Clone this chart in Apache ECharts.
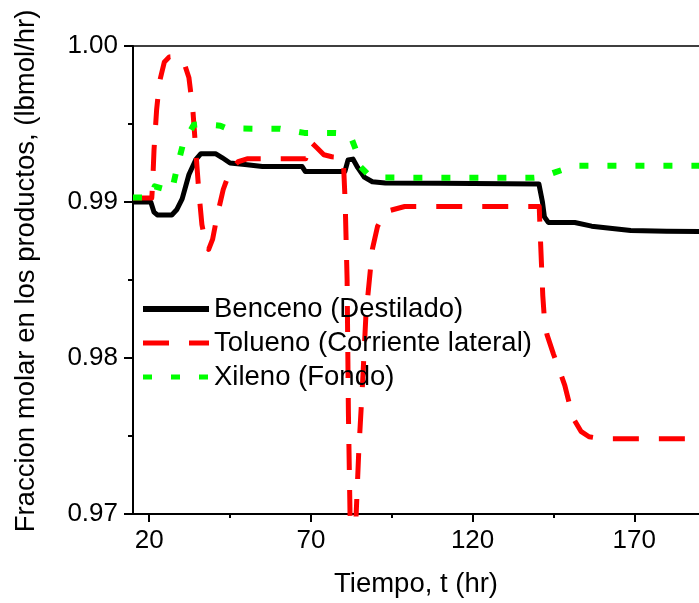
<!DOCTYPE html>
<html>
<head>
<meta charset="utf-8">
<script src="https://cdn.jsdelivr.net/npm/echarts@6/dist/echarts.min.js"></script>
<style>
html,body{margin:0;padding:0;background:#fff;}
#chart{width:699px;height:603px;}
</style>
</head>
<body>
<div id="chart"></div>
<script>
// ---- Data ----
var xTickValues = [20, 70, 120, 170];
var xMinorTickValues = [45, 95, 145];
var yTickLabels = ['0.97', '0.98', '0.99', '1.00'];

var seriesNames = ['Benceno (Destilado)', 'Tolueno (Corriente lateral)', 'Xileno (Fondo)'];

var bencenoT = [15, 20.5, 21.5, 22.5, 27, 28.5, 30.2, 32.3, 34.4, 36, 40.5, 42.5, 45, 49.6, 55, 67.3, 68.3, 75, 80.5, 81.5, 83, 84.5, 86.5, 89, 93, 110, 140.5, 141.6, 142.2, 143.4, 151.6, 156.8, 168.9, 180, 190];
var bencenoY = [0.9900, 0.9900, 0.98935, 0.98917, 0.98917, 0.9895, 0.9902, 0.99176, 0.99271, 0.9931, 0.9931, 0.99285, 0.9925, 0.9924, 0.99228, 0.99227, 0.99195, 0.99195, 0.99195, 0.9927, 0.99275, 0.9922, 0.9916, 0.9913, 0.99122, 0.9912, 0.99115, 0.9900, 0.98905, 0.98869, 0.98869, 0.98845, 0.98818, 0.98812, 0.98811];

var toluenoT = [15, 20.8, 21.1, 21.5, 22.3, 23.2, 24.7, 26.2, 27.5, 28.7, 30.8, 32.3, 33.5, 34.4, 35.3, 36.3, 37.5, 38.4, 39.6, 41.1, 42.9, 45.1, 47.5, 50.5, 68.4, 69.5, 70.5, 72, 74, 76.5, 80, 80.6, 81.2, 81.6, 82.1, 83, 84, 84.8, 86, 87, 89, 90.6, 93, 99, 120, 140.6, 140.9, 141.3, 141.7, 142.2, 143, 145, 146.6, 148.5, 150, 151.5, 153.5, 156, 160, 190];
var toluenoY = [0.99025, 0.99025, 0.99125, 0.99335, 0.99591, 0.9977, 0.99898, 0.9993, 0.99932, 0.9993, 0.99891, 0.99796, 0.99591, 0.99335, 0.9908, 0.98856, 0.98728, 0.98696, 0.9876, 0.9892, 0.9908, 0.99207, 0.99258, 0.99278, 0.99278, 0.99386, 0.99375, 0.99345, 0.99303, 0.9929, 0.99285, 0.9900, 0.9850, 0.9765, 0.9700, 0.9660, 0.9700, 0.9740, 0.97847, 0.98268, 0.98696, 0.98843, 0.98938, 0.98971, 0.98971, 0.98971, 0.9880, 0.9860, 0.9840, 0.9825, 0.9815, 0.98025, 0.97935, 0.97825, 0.9770, 0.9760, 0.9753, 0.97495, 0.97482, 0.97482];

var xilenoT = [15, 20.5, 21.7, 27, 28.7, 30.5, 33.8, 36, 42, 43.8, 52, 60.5, 68, 77, 80, 82.5, 84, 85.4, 87.5, 92, 101, 139, 141.5, 145.2, 151.6, 190];
var xilenoY = [0.99029, 0.99029, 0.9910, 0.9907, 0.99227, 0.99374, 0.99495, 0.9950, 0.99489, 0.99473, 0.9947, 0.9947, 0.99443, 0.99443, 0.9944, 0.9941, 0.9933, 0.99225, 0.9918, 0.99157, 0.99156, 0.99156, 0.9916, 0.99188, 0.99233, 0.99233];

function pairs(t, y) {
  var out = [];
  for (var i = 0; i < t.length; i++) out.push([t[i], y[i]]);
  return out;
}

var FONT = 'Liberation Sans';
var chart = echarts.init(document.getElementById('chart'), null, {renderer: 'canvas'});

var option = {
  backgroundColor: '#ffffff',
  animation: false,
  textStyle: {fontFamily: FONT, color: '#000'},
  grid: {left: 133, top: 46, right: -10.5, bottom: 88, containLabel: false},
  legend: {
    orient: 'vertical',
    left: 135,
    top: 290,
    itemWidth: 66,
    itemHeight: 14,
    itemGap: 6,
    itemStyle: {opacity: 0, borderWidth: 0},
    data: [
      {name: seriesNames[0], lineStyle: {width: 6}},
      {name: seriesNames[1], lineStyle: {width: 5}},
      {name: seriesNames[2], lineStyle: {width: 5}}
    ],
    textStyle: {fontFamily: FONT, fontSize: 27.5, color: '#000'}
  },
  xAxis: [
    {
      type: 'value', position: 'bottom', min: 15, max: 190,
      name: 'Tiempo, t (hr)', nameLocation: 'middle', nameGap: 56,
      nameTextStyle: {fontFamily: FONT, fontSize: 27.5, color: '#000'},
      axisLine: {show: true, onZero: false, lineStyle: {color: '#000', width: 2}},
      axisTick: {show: true, inside: false, length: 8, customValues: xTickValues, lineStyle: {color: '#000', width: 2}},
      axisLabel: {show: true, margin: 14, customValues: xTickValues, fontFamily: FONT, fontSize: 26, color: '#000'},
      splitLine: {show: false}
    },
    {
      type: 'value', position: 'bottom', min: 15, max: 190,
      axisLine: {show: false},
      axisTick: {show: true, inside: false, length: 4, customValues: xMinorTickValues, lineStyle: {color: '#000', width: 2}},
      axisLabel: {show: false},
      splitLine: {show: false}
    },
    {
      type: 'value', position: 'top', min: 15, max: 190,
      axisLine: {show: true, onZero: false, lineStyle: {color: '#000', width: 1.5}},
      axisTick: {show: false},
      axisLabel: {show: false},
      splitLine: {show: false}
    }
  ],
  yAxis: [
    {
      type: 'value', min: 0.97, max: 1.0, interval: 0.01,
      name: 'Fraccion molar en los productos, (lbmol/hr)', nameLocation: 'middle', nameGap: 93,
      nameTextStyle: {fontFamily: FONT, fontSize: 27.5, color: '#000', padding: [0, 0, 0, 18]},
      axisLine: {show: true, onZero: false, lineStyle: {color: '#000', width: 2}},
      axisTick: {show: true, inside: false, length: 9, lineStyle: {color: '#000', width: 2}},
      minorTick: {show: true, splitNumber: 2, length: 5, lineStyle: {color: '#000', width: 2}},
      axisLabel: {
        show: true, margin: 15, fontFamily: FONT, fontSize: 26, color: '#000',
        formatter: function (v) {
          var idx = Math.round((v - 0.97) / 0.01);
          return yTickLabels[idx] !== undefined ? yTickLabels[idx] : v.toFixed(2);
        }
      },
      splitLine: {show: false},
      minorSplitLine: {show: false}
    }
  ],
  series: [
    {
      name: seriesNames[0], type: 'line', xAxisIndex: 0, yAxisIndex: 0,
      data: pairs(bencenoT, bencenoY), symbol: 'none', showSymbol: false, clip: true,
      lineStyle: {color: '#000000', width: 5, type: 'solid', join: 'round'},
      itemStyle: {color: '#000000'}
    },
    {
      name: seriesNames[1], type: 'line', xAxisIndex: 0, yAxisIndex: 0,
      data: pairs(toluenoT, toluenoY), symbol: 'none', showSymbol: false, clip: true,
      lineStyle: {color: '#ff0000', width: 5, type: [26, 20], join: 'round'},
      itemStyle: {color: '#ff0000'}
    },
    {
      name: seriesNames[2], type: 'line', xAxisIndex: 0, yAxisIndex: 0,
      data: pairs(xilenoT, xilenoY), symbol: 'none', showSymbol: false, clip: true,
      lineStyle: {color: '#00ff00', width: 6, type: [9, 19], join: 'round'},
      itemStyle: {color: '#00ff00'}
    }
  ]
};
chart.setOption(option);
</script>
</body>
</html>
